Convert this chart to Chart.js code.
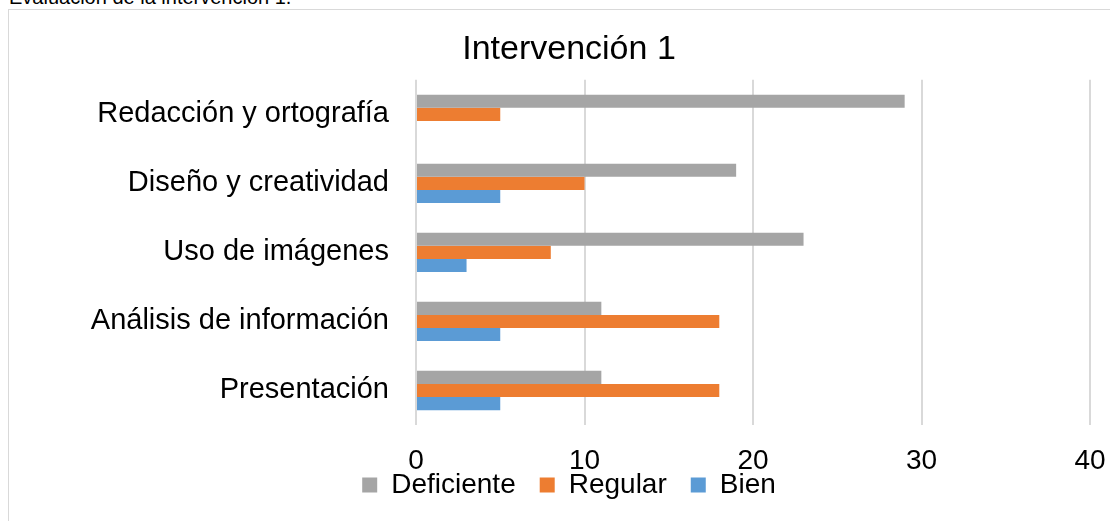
<!DOCTYPE html>
<html><head><meta charset="utf-8">
<script src="https://cdn.jsdelivr.net/npm/chart.js@4.4.0/dist/chart.umd.min.js"></script>
<style>
html,body{margin:0;padding:0;background:#fff;width:1110px;height:521px;overflow:hidden;}
#cap{position:absolute;left:9px;top:-13px;font:20px "Liberation Sans",Arial,sans-serif;color:#000;white-space:nowrap;line-height:20px}
#box{position:absolute;left:8px;top:9px;width:1200px;height:600px;border:1px solid #d9d9d9;box-sizing:border-box}
#wrap{position:absolute;left:0;top:0;width:1110px;height:521px}
</style></head><body>
<div id="cap">Evaluación de la intervención 1.</div>
<div id="box"></div>
<div id="wrap"><canvas id="c" width="1110" height="521"></canvas></div>
<script>
const categories = ["Redacción y ortografía","Diseño y creatividad","Uso de imágenes","Análisis de información","Presentación"];
const deficiente = [29,19,23,11,11];
const regular = [5,10,8,18,18];
const bien = [0,5,3,5,5];
const seriesNames = ["Deficiente","Regular","Bien"];
const xMin = 0, xMax = 40, xStep = 10;

Chart.defaults.font.family = '"Liberation Sans", Arial, sans-serif';
Chart.defaults.color = '#000';

const LEFT_PAD = 48;

// let the x tick labels extend below the (shortened) x-axis box without clipping
const labelRoom = {
  id: 'labelRoom',
  afterLayout(chart) { chart.scales.x.bottom = chart.height; }
};

new Chart(document.getElementById('c'), {
  type: 'bar',
  data: {
    labels: categories,
    datasets: [
      {label: seriesNames[0], data: deficiente, backgroundColor: '#A5A5A5'},
      {label: seriesNames[1], data: regular, backgroundColor: '#ED7D31'},
      {label: seriesNames[2], data: bien, backgroundColor: '#5B9BD5'}
    ]
  },
  plugins: [labelRoom],
  options: {
    indexAxis: 'y',
    responsive: false,
    animation: false,
    categoryPercentage: 0.57,
    barPercentage: 1,
    layout: {padding: {left: LEFT_PAD, right: 20, top: 0, bottom: 12}},
    scales: {
      x: {
        min: xMin, max: xMax,
        ticks: {stepSize: xStep, font: {size: 28}, color: '#000', padding: 0},
        grid: {color: '#d9d9d9', lineWidth: 2, drawTicks: true, tickLength: 19, tickColor: 'rgba(0,0,0,0)'},
        border: {display: false},
        afterFit: s => { s.height = 22; }
      },
      y: {
        ticks: {font: {size: 29}, color: '#000', padding: 27},
        grid: {display: false, drawTicks: false},
        border: {display: false},
        afterFit: s => { s.width = 416 - LEFT_PAD; }
      }
    },
    plugins: {
      title: {display: true, text: 'Intervención 1', color: '#000',
        font: {size: 34, weight: 'normal'}, padding: {top: 29, bottom: 10}},
      legend: {position: 'bottom',
        labels: {boxWidth: 15, boxHeight: 15, font: {size: 28}, color: '#000', padding: 24}},
      tooltip: {enabled: false}
    }
  }
});
</script>
</body></html>
